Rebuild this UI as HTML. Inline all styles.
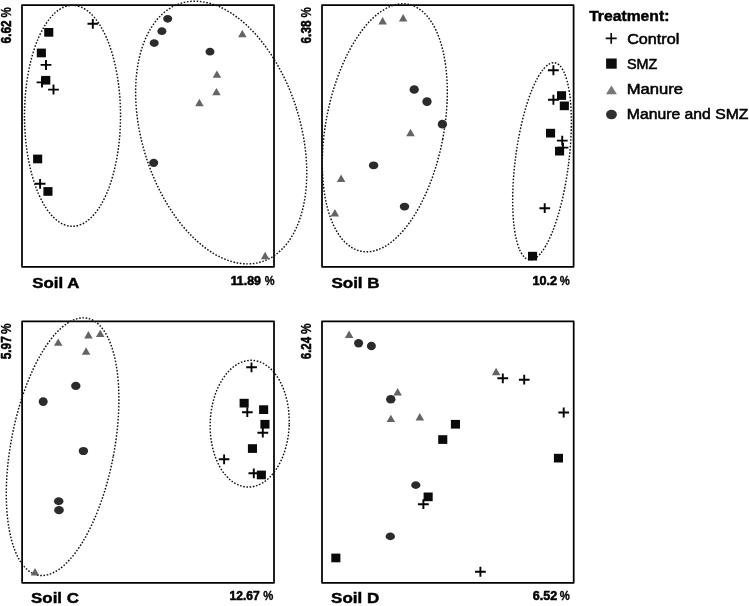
<!DOCTYPE html>
<html><head><meta charset="utf-8"><title>Soil ordination</title>
<style>html,body{margin:0;padding:0;background:#fff}svg{display:block}text{font-family:"Liberation Sans",sans-serif;fill:#000}.b{font-weight:bold;stroke:#000;stroke-width:0.45px}.n{stroke:#000;stroke-width:0.55px}.p{font-weight:bold;stroke:#000;stroke-width:0.55px}.q{font-weight:bold;stroke:#000;stroke-width:0.3px}</style></head><body>
<svg width="749" height="606" viewBox="0 0 749 606">
<rect width="749" height="606" fill="#fff"/>
<rect x="22.0" y="5.1" width="252.0" height="261.7" fill="none" stroke="#000" stroke-width="1.75" stroke-linejoin="round"/>
<rect x="322.0" y="5.1" width="251.6" height="261.7" fill="none" stroke="#000" stroke-width="1.75" stroke-linejoin="round"/>
<rect x="22.1" y="321.3" width="251.9" height="261.5" fill="none" stroke="#000" stroke-width="1.75" stroke-linejoin="round"/>
<rect x="322.0" y="321.3" width="251.7" height="261.5" fill="none" stroke="#000" stroke-width="1.75" stroke-linejoin="round"/>
<ellipse cx="72.5" cy="115.8" rx="48" ry="110.5" transform="rotate(0 72.5 115.8)" fill="none" stroke="#111" stroke-width="1.45" stroke-dasharray="1.6 1.65"/>
<ellipse cx="221.2" cy="132.55" rx="79.0" ry="135.4" transform="rotate(-17.4 221.2 132.55)" fill="none" stroke="#111" stroke-width="1.45" stroke-dasharray="1.6 1.65"/>
<ellipse cx="384.8" cy="127.8" rx="59" ry="125.7" transform="rotate(10.7 384.8 127.8)" fill="none" stroke="#111" stroke-width="1.45" stroke-dasharray="1.6 1.65"/>
<ellipse cx="542.0" cy="161.3" rx="26.7" ry="99.3" transform="rotate(7.3 542.0 161.3)" fill="none" stroke="#111" stroke-width="1.45" stroke-dasharray="1.6 1.65"/>
<ellipse cx="62.6" cy="446.7" rx="51.6" ry="130.8" transform="rotate(10.8 62.6 446.7)" fill="none" stroke="#111" stroke-width="1.45" stroke-dasharray="1.6 1.65"/>
<ellipse cx="249.7" cy="423.7" rx="39.5" ry="63.4" transform="rotate(2 249.7 423.7)" fill="none" stroke="#111" stroke-width="1.45" stroke-dasharray="1.6 1.65"/>
<polygon points="242.3,29.8 246.6,37.2 238.1,37.2" fill="#646464"/>
<polygon points="216.9,70.4 221.2,77.8 212.7,77.8" fill="#646464"/>
<polygon points="216.4,87.9 220.7,95.3 212.2,95.3" fill="#646464"/>
<polygon points="199.4,98.8 203.7,106.2 195.2,106.2" fill="#646464"/>
<polygon points="265.1,251.8 269.4,259.2 260.9,259.2" fill="#646464"/>
<polygon points="382.6,17.1 386.9,24.5 378.4,24.5" fill="#646464"/>
<polygon points="403.1,14.1 407.4,21.5 398.9,21.5" fill="#646464"/>
<polygon points="410.5,128.8 414.8,136.2 406.2,136.2" fill="#646464"/>
<polygon points="341.1,174.6 345.4,182.0 336.9,182.0" fill="#646464"/>
<polygon points="334.9,209.1 339.1,216.5 330.6,216.5" fill="#646464"/>
<polygon points="58.2,338.4 62.5,345.8 54.0,345.8" fill="#646464"/>
<polygon points="88.4,331.0 92.7,338.4 84.2,338.4" fill="#646464"/>
<polygon points="100.2,329.7 104.5,337.1 96.0,337.1" fill="#646464"/>
<polygon points="86.1,347.3 90.3,354.7 81.8,354.7" fill="#646464"/>
<polygon points="35.0,568.0 39.2,575.4 30.8,575.4" fill="#646464"/>
<polygon points="349.1,330.5 353.4,337.9 344.9,337.9" fill="#646464"/>
<polygon points="397.6,388.0 401.9,395.4 393.4,395.4" fill="#646464"/>
<polygon points="390.9,414.7 395.1,422.1 386.6,422.1" fill="#646464"/>
<polygon points="419.8,413.0 424.1,420.4 415.6,420.4" fill="#646464"/>
<polygon points="496.1,367.8 500.4,375.2 491.9,375.2" fill="#646464"/>
<ellipse cx="167.7" cy="18.8" rx="4.5" ry="3.9" fill="#2b2b2b"/>
<ellipse cx="161.9" cy="31.2" rx="4.5" ry="3.9" fill="#2b2b2b"/>
<ellipse cx="154.2" cy="43.1" rx="4.5" ry="3.9" fill="#2b2b2b"/>
<ellipse cx="210" cy="51.7" rx="4.5" ry="3.9" fill="#2b2b2b"/>
<ellipse cx="153.7" cy="162.8" rx="4.55" ry="4.1" fill="#2b2b2b"/>
<ellipse cx="414.2" cy="89.5" rx="4.65" ry="4.35" fill="#2b2b2b"/>
<ellipse cx="427" cy="101.6" rx="4.65" ry="4.35" fill="#2b2b2b"/>
<ellipse cx="442.4" cy="124.2" rx="4.65" ry="4.35" fill="#2b2b2b"/>
<ellipse cx="373.6" cy="165.4" rx="4.7" ry="3.95" fill="#2b2b2b"/>
<ellipse cx="404.5" cy="206.6" rx="4.7" ry="3.95" fill="#2b2b2b"/>
<ellipse cx="75.8" cy="385.9" rx="4.7" ry="4.2" fill="#2b2b2b"/>
<ellipse cx="43.2" cy="401.6" rx="4.5" ry="4.3" fill="#2b2b2b"/>
<ellipse cx="83.4" cy="451" rx="4.7" ry="4.1" fill="#2b2b2b"/>
<ellipse cx="58.7" cy="501.2" rx="4.75" ry="3.95" fill="#2b2b2b"/>
<ellipse cx="59" cy="510.2" rx="4.8" ry="4.1" fill="#2b2b2b"/>
<ellipse cx="358.6" cy="343.3" rx="4.5" ry="4.2" fill="#2b2b2b"/>
<ellipse cx="371.4" cy="346" rx="4.5" ry="4.25" fill="#2b2b2b"/>
<ellipse cx="390.8" cy="399.3" rx="4.7" ry="4.3" fill="#2b2b2b"/>
<ellipse cx="415.8" cy="485.1" rx="4.65" ry="3.85" fill="#2b2b2b"/>
<ellipse cx="390.3" cy="536.4" rx="4.65" ry="3.85" fill="#2b2b2b"/>
<rect x="44.2" y="28.0" width="9.1" height="8.7" fill="#0a0a0a"/>
<rect x="36.8" y="48.6" width="9.1" height="8.7" fill="#0a0a0a"/>
<rect x="41.2" y="75.9" width="9.1" height="8.7" fill="#0a0a0a"/>
<rect x="33.1" y="154.6" width="9.1" height="8.7" fill="#0a0a0a"/>
<rect x="43.4" y="187.1" width="9.1" height="8.7" fill="#0a0a0a"/>
<rect x="557.0" y="91.2" width="9.1" height="8.7" fill="#0a0a0a"/>
<rect x="559.8" y="101.5" width="9.1" height="8.7" fill="#0a0a0a"/>
<rect x="546.0" y="128.8" width="9.1" height="8.7" fill="#0a0a0a"/>
<rect x="555.0" y="146.8" width="9.1" height="8.7" fill="#0a0a0a"/>
<rect x="528.0" y="251.8" width="9.1" height="8.7" fill="#0a0a0a"/>
<rect x="239.6" y="398.8" width="9.1" height="8.7" fill="#0a0a0a"/>
<rect x="259.1" y="405.3" width="9.1" height="8.7" fill="#0a0a0a"/>
<rect x="260.4" y="419.9" width="9.1" height="8.7" fill="#0a0a0a"/>
<rect x="247.9" y="444.2" width="9.1" height="8.7" fill="#0a0a0a"/>
<rect x="256.8" y="470.6" width="9.1" height="8.7" fill="#0a0a0a"/>
<rect x="450.9" y="419.9" width="9.1" height="8.7" fill="#0a0a0a"/>
<rect x="438.2" y="435.2" width="9.1" height="8.7" fill="#0a0a0a"/>
<rect x="553.9" y="453.8" width="9.1" height="8.7" fill="#0a0a0a"/>
<rect x="423.6" y="492.5" width="9.1" height="8.7" fill="#0a0a0a"/>
<rect x="331.3" y="553.6" width="9.1" height="8.7" fill="#0a0a0a"/>
<path d="M87.5 23.8H98.1M92.8 18.9V28.8" stroke="#050505" stroke-width="1.9" fill="none"/>
<path d="M40.6 64.9H51.4M46.0 60.0V69.9" stroke="#050505" stroke-width="1.9" fill="none"/>
<path d="M36.6 82.4H47.4M42.0 77.5V87.4" stroke="#050505" stroke-width="1.9" fill="none"/>
<path d="M48.1 89.6H58.9M53.5 84.6V94.5" stroke="#050505" stroke-width="1.9" fill="none"/>
<path d="M34.8 183.8H45.5M40.1 178.9V188.8" stroke="#050505" stroke-width="1.9" fill="none"/>
<path d="M548.0 70.3H558.8M553.4 65.3V75.2" stroke="#050505" stroke-width="1.9" fill="none"/>
<path d="M548.0 99.7H558.8M553.4 94.8V104.7" stroke="#050505" stroke-width="1.9" fill="none"/>
<path d="M556.9 140.6H567.6M562.2 135.7V145.5" stroke="#050505" stroke-width="1.9" fill="none"/>
<path d="M557.6 147.6H568.4M563.0 142.7V152.5" stroke="#050505" stroke-width="1.9" fill="none"/>
<path d="M539.4 208.2H550.1M544.7 203.2V213.1" stroke="#050505" stroke-width="1.9" fill="none"/>
<path d="M246.2 367.3H256.9M251.5 362.4V372.2" stroke="#050505" stroke-width="1.9" fill="none"/>
<path d="M242.0 412.2H252.7M247.3 407.2V417.1" stroke="#050505" stroke-width="1.9" fill="none"/>
<path d="M257.4 432.7H268.2M262.8 427.8V437.6" stroke="#050505" stroke-width="1.9" fill="none"/>
<path d="M218.8 459.3H229.4M224.1 454.4V464.2" stroke="#050505" stroke-width="1.9" fill="none"/>
<path d="M248.5 473.3H259.2M253.8 468.4V478.2" stroke="#050505" stroke-width="1.9" fill="none"/>
<path d="M497.4 378.3H508.2M502.8 373.4V383.2" stroke="#050505" stroke-width="1.9" fill="none"/>
<path d="M518.9 379.7H529.6M524.2 374.8V384.6" stroke="#050505" stroke-width="1.9" fill="none"/>
<path d="M558.4 412.5H569.1M563.7 407.6V417.4" stroke="#050505" stroke-width="1.9" fill="none"/>
<path d="M418.0 504.2H428.8M423.4 499.2V509.1" stroke="#050505" stroke-width="1.9" fill="none"/>
<path d="M475.0 571.8H485.8M480.4 566.8V576.8" stroke="#050505" stroke-width="1.9" fill="none"/>
<text x="32.32" y="287.7" font-size="14.8" class="b" textLength="47.00" lengthAdjust="spacingAndGlyphs">Soil A</text>
<text x="331.41" y="287.7" font-size="14.8" class="b" textLength="48.20" lengthAdjust="spacingAndGlyphs">Soil B</text>
<text x="31.12" y="603.3" font-size="14.8" class="b" textLength="47.84" lengthAdjust="spacingAndGlyphs">Soil C</text>
<text x="331.12" y="603.3" font-size="14.8" class="b" textLength="48.10" lengthAdjust="spacingAndGlyphs">Soil D</text>
<text x="230.67" y="284.6" font-size="12.4" class="p" textLength="30.21" lengthAdjust="spacingAndGlyphs">11.89</text>
<text x="264.72" y="284.6" font-size="12.4" class="q" textLength="9.84" lengthAdjust="spacingAndGlyphs">%</text>
<text x="532.55" y="284.6" font-size="12.4" class="p" textLength="24.59" lengthAdjust="spacingAndGlyphs">10.2</text>
<text x="559.82" y="284.6" font-size="12.4" class="q" textLength="10.06" lengthAdjust="spacingAndGlyphs">%</text>
<text x="229.59" y="600.3" font-size="12.2" class="p" textLength="30.04" lengthAdjust="spacingAndGlyphs">12.67</text>
<text x="263.32" y="600.3" font-size="12.2" class="q" textLength="10.06" lengthAdjust="spacingAndGlyphs">%</text>
<text x="532.74" y="600.3" font-size="12.2" class="p" textLength="24.41" lengthAdjust="spacingAndGlyphs">6.52</text>
<text x="559.82" y="600.3" font-size="12.2" class="q" textLength="10.06" lengthAdjust="spacingAndGlyphs">%</text>
<text x="589.17" y="21.1" font-size="14.8" class="b" textLength="80.23" lengthAdjust="spacingAndGlyphs">Treatment:</text>
<text x="627.17" y="43.8" font-size="15.2" class="n" textLength="52.07" lengthAdjust="spacingAndGlyphs">Control</text>
<text x="626.93" y="68.7" font-size="15.2" class="n" textLength="30.34" lengthAdjust="spacingAndGlyphs">SMZ</text>
<text x="626.75" y="94.3" font-size="15.2" class="n" textLength="56.34" lengthAdjust="spacingAndGlyphs">Manure</text>
<text x="626.82" y="119.3" font-size="15.2" class="n" textLength="121.59" lengthAdjust="spacingAndGlyphs">Manure and SMZ</text>
<text transform="translate(11.0 43.44) rotate(-90)" font-size="14.2" class="p" textLength="23.05" lengthAdjust="spacingAndGlyphs">6.62</text>
<text transform="translate(11.0 17.49) rotate(-90)" font-size="14.2" class="q" textLength="10.27" lengthAdjust="spacingAndGlyphs">%</text>
<text transform="translate(311.0 43.44) rotate(-90)" font-size="14.2" class="p" textLength="22.93" lengthAdjust="spacingAndGlyphs">6.38</text>
<text transform="translate(311.0 17.49) rotate(-90)" font-size="14.2" class="q" textLength="10.27" lengthAdjust="spacingAndGlyphs">%</text>
<text transform="translate(11.0 359.18) rotate(-90)" font-size="14.2" class="p" textLength="22.85" lengthAdjust="spacingAndGlyphs">5.97</text>
<text transform="translate(11.0 333.90) rotate(-90)" font-size="14.2" class="q" textLength="10.59" lengthAdjust="spacingAndGlyphs">%</text>
<text transform="translate(311.0 359.22) rotate(-90)" font-size="14.2" class="p" textLength="22.22" lengthAdjust="spacingAndGlyphs">6.24</text>
<text transform="translate(311.0 334.10) rotate(-90)" font-size="14.2" class="q" textLength="10.59" lengthAdjust="spacingAndGlyphs">%</text>
<path d="M605.7 38.4H616.7M611.2 33.0V43.8" stroke="#0a0a0a" stroke-width="1.7" fill="none"/>
<rect x="606.1" y="58.5" width="10.6" height="10.2" fill="#0d0d0d"/>
<polygon points="611.45,85.5 616.9,94.3 606,94.3" fill="#777"/>
<ellipse cx="611.45" cy="114.55" rx="5.45" ry="4.75" fill="#303030"/>
</svg></body></html>
